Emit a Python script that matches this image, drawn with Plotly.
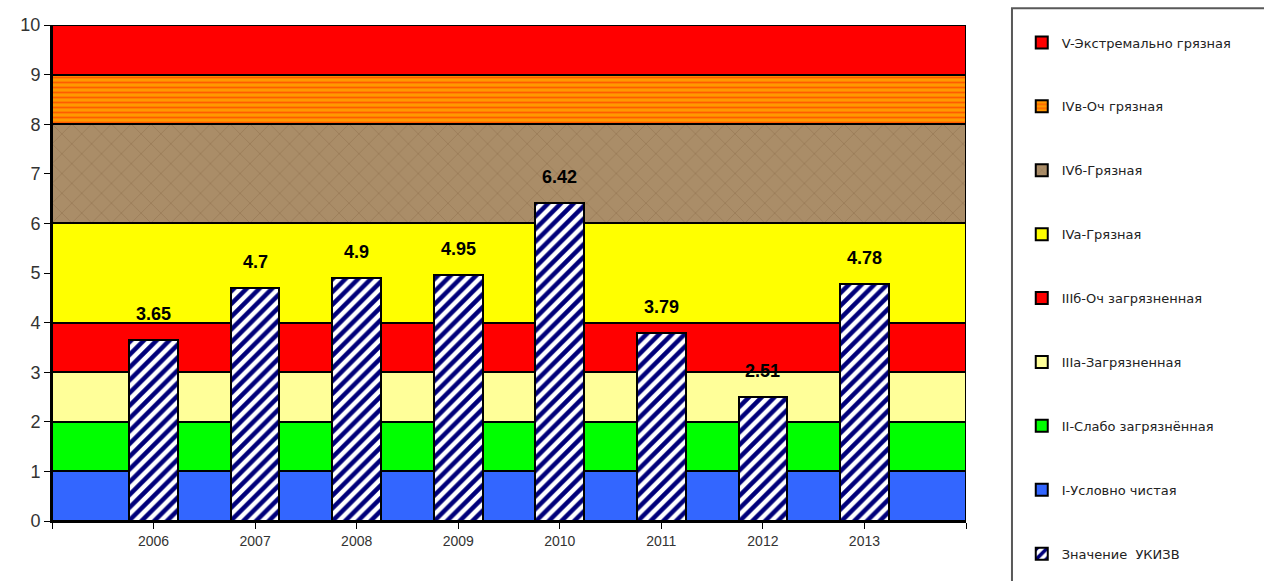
import plotly.graph_objects as go

years = [2006, 2007, 2008, 2009, 2010, 2011, 2012, 2013]
values = [3.65, 4.7, 4.9, 4.95, 6.42, 3.79, 2.51, 4.78]
value_name = "Значение  УКИЗВ"

# bands listed top to bottom (legend order)
band_names = ["V-Экстремально грязная", "IVв-Оч грязная", "IVб-Грязная", "IVa-Грязная",
              "IIIб-Оч загрязненная", "IIIa-Загрязненная", "II-Слабо загрязнённая", "I-Условно чистая"]
band_low = [9, 8, 6, 4, 3, 2, 1, 0]
band_high = [10, 9, 8, 6, 4, 3, 2, 1]
band_colors = ["#FF0000", "#FF9900", "#AA8D68", "#FFFF00", "#FF0000", "#FFFF99", "#00FF00", "#3366FF"]
band_patterns = [None, dict(shape="-", fgcolor="#FF2000", size=5, solidity=0.35),
                 dict(shape="x", fgcolor="#8A6C48", size=14, solidity=0.12),
                 None, None, None, None, None]

x_lo, x_hi = 2005, 2014

fig = go.Figure()
for name, lo, hi, col, pat in zip(band_names, band_low, band_high, band_colors, band_patterns):
    marker = dict(color=col, line=dict(color="black", width=2))
    if pat:
        marker["pattern"] = dict(bgcolor=col, fillmode="overlay", **pat)
    fig.add_trace(go.Bar(
        x=[(x_lo + x_hi) / 2], y=[hi - lo], base=[lo], width=[x_hi - x_lo],
        name=name, marker=marker, legendgroup=name, hoverinfo="skip"))

fig.add_trace(go.Bar(
    x=years, y=values, width=0.48, name=value_name, legendgroup=value_name,
    marker=dict(color="white", line=dict(color="black", width=2),
                pattern=dict(shape="/", fgcolor="#00007A", bgcolor="white", fgopacity=1,
                             size=9, solidity=0.5))))

for xv, yv in zip(years, values):
    fig.add_annotation(x=xv, y=yv, text=str(yv), showarrow=False, yshift=26,
                       font=dict(family="Liberation Sans", size=18, color="black", weight="bold"))

# legend frame
fig.add_shape(type="rect", xref="paper", yref="paper", x0=1.0503, x1=1.40, y0=-0.2, y1=1.034,
              line=dict(color="#595959", width=2), fillcolor="rgba(0,0,0,0)")

tickvals = list(range(x_lo, x_hi + 1))
ticktext = [str(v) if v in years else "" for v in tickvals]

fig.update_layout(
    width=1264, height=581,
    margin=dict(l=52, r=298, t=25, b=60),
    barmode="overlay", bargap=0,
    paper_bgcolor="white", plot_bgcolor="white",
    font=dict(family="Liberation Sans", color="#333333"),
    xaxis=dict(range=[x_lo, x_hi], tickvals=tickvals, ticktext=ticktext, showgrid=False,
               showline=True, linecolor="black", linewidth=2, ticks="outside", ticklen=6,
               tickcolor="black", tickfont=dict(size=14, color="#333333"), zeroline=False),
    yaxis=dict(range=[0, 10], dtick=1, showgrid=False, showline=True, linecolor="black",
               linewidth=2, ticks="outside", ticklen=6, tickcolor="black",
               tickfont=dict(size=18, color="#333333"), zeroline=False),
    legend=dict(x=1.061, y=0.995, xanchor="left", yanchor="top", traceorder="grouped",
                tracegroupgap=44, maxheight=700,
                font=dict(family="DejaVu Sans", size=13, color="#222222"),
                bgcolor="rgba(0,0,0,0)", borderwidth=0),
    showlegend=True,
)

fig.write_html("out.html")
